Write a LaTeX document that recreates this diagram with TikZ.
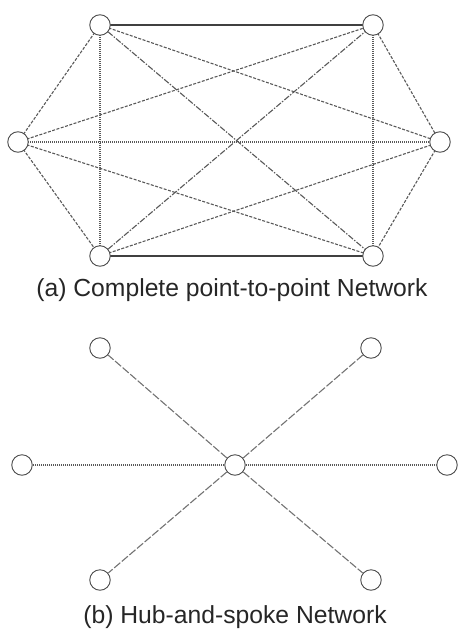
\documentclass[tikz,border=0pt]{standalone}
\usepackage{fontspec}
\setmainfont{Liberation Sans}
\begin{document}
\begin{tikzpicture}[x=1pt,y=-1pt,
  vtx/.style={circle,draw=black!70,line width=0.9pt,minimum size=20.5pt,inner sep=0pt,fill=white},
  solidln/.style={draw=black!75,line width=1.3pt},
  dotln/.style={draw=black!65,line width=1.1pt,dash pattern=on 1pt off 1pt},
  dashln/.style={draw=black!65,line width=1.1pt,dash pattern=on 3pt off 1.5pt},
  dashdotln/.style={draw=black!65,line width=1.1pt,dash pattern=on 6pt off 1.5pt on 1.5pt off 1.5pt},
  longdashln/.style={draw=black!55,line width=1.1pt,dash pattern=on 8pt off 2pt},
  captxt/.style={font=\fontsize{24.7}{29}\selectfont,inner sep=0pt,text=black!85}]
\useasboundingbox (0,0) rectangle (458,634);
% (a) complete network
\coordinate (pa) at (100,25);
\coordinate (pb) at (373,25);
\coordinate (pc) at (18,142);
\coordinate (pd) at (440,142);
\coordinate (pe) at (100,256);
\coordinate (pf) at (373,256);
\begin{scope}
\path[solidln] (pa) -- (pb);
\path[solidln] (pe) -- (pf);
\path[dotln] (pa) -- (pe);
\path[dotln] (pb) -- (pf);
\path[dotln] (pc) -- (pd);
\path[dashln] (pa) -- (pc);
\path[dashln] (pc) -- (pe);
\path[dashln] (pb) -- (pd);
\path[dashln] (pd) -- (pf);
\path[dashln] (pa) -- (pd);
\path[dashln] (pc) -- (pb);
\path[dashln] (pc) -- (pf);
\path[dashln] (pe) -- (pd);
\path[dashdotln] (pa) -- (pf);
\path[dashdotln] (pe) -- (pb);
\end{scope}
\node[vtx] (a) at (pa) {};
\node[vtx] (b) at (pb) {};
\node[vtx] (c) at (pc) {};
\node[vtx] (d) at (pd) {};
\node[vtx] (e) at (pe) {};
\node[vtx] (f) at (pf) {};
\node[captxt] (capa) at (232,290) {(a) Complete point-to-point Network};
% (b) hub and spoke
\node[vtx] (h) at (235,465) {};
\node[vtx] (s1) at (100,348) {};
\node[vtx] (s2) at (371,348) {};
\node[vtx] (s3) at (22,465) {};
\node[vtx] (s4) at (447,465) {};
\node[vtx] (s5) at (100,580) {};
\node[vtx] (s6) at (371,580) {};
\path[longdashln] (h) -- (s1);
\path[longdashln] (h) -- (s2);
\path[dotln] (h) -- (s3);
\path[dotln] (h) -- (s4);
\path[longdashln] (h) -- (s5);
\path[longdashln] (h) -- (s6);
\node[captxt] (capb) at (235,617) {(b) Hub-and-spoke Network};
\end{tikzpicture}
\end{document}
